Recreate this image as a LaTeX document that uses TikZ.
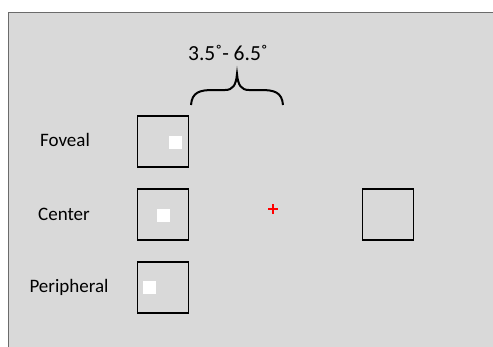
\documentclass[tikz,border=0pt]{standalone}
\usepackage{fontspec}
\setmainfont{Carlito}
\begin{document}
\begin{tikzpicture}[x=1pt,y=-1pt,
  frame/.style={draw=black, line width=1.6pt, minimum size=51pt, inner sep=0pt},
  dot/.style={fill=white, minimum size=13pt, inner sep=0pt},
  lbl/.style={font=\fontsize{19}{21}\selectfont, inner sep=0pt}]
  \useasboundingbox (0,0) rectangle (493,346);
  % grey stimulus panel
  \fill[black!15] (8,12) rectangle (495,348);
  \draw[black!58, line width=1pt] (8,348) -- (8,12) -- (495,12);

  % eccentricity range
  \node[lbl, font=\fontsize{21.5}{23}\selectfont] (range) at (228,53) {3.5˚- 6.5˚};
  \coordinate (bl) at (191,105);
  \coordinate (br) at (283,105);
  \coordinate (tip) at (237,74);
  \draw[line width=2pt] (bl) .. controls (192,92) and (200,90) .. (213,90)
     -- (225,90) .. controls (233,90) and (236,85) .. (tip)
     .. controls (238,85) and (241,90) .. (249,90)
     -- (261,90) .. controls (274,90) and (282,92) .. (br);

  % condition labels
  \node[lbl] (fov) at (65,140) {Foveal};
  \node[lbl] (cen) at (64,214) {Center};
  \node[lbl] (per) at (69,287) {Peripheral};

  % left frames with probe positions
  \node[frame] (bf) at (163,141.5) {};
  \node[frame] (bc) at (163,214.5) {};
  \node[frame] (bp) at (163,287.5) {};
  \node[dot] (df) at (175.5,142.5) {};
  \node[dot] (dc) at (163,215) {};
  \node[dot] (dp) at (149.5,287) {};

  % fixation cross
  \coordinate (fix) at (273,209);
  \draw[red, line width=1.5pt] ([xshift=-5pt]fix) -- ([xshift=5pt]fix)
       ([yshift=-5pt]fix) -- ([yshift=5pt]fix);

  % right frame
  \node[frame] (br2) at (388,214.5) {};
\end{tikzpicture}
\end{document}
